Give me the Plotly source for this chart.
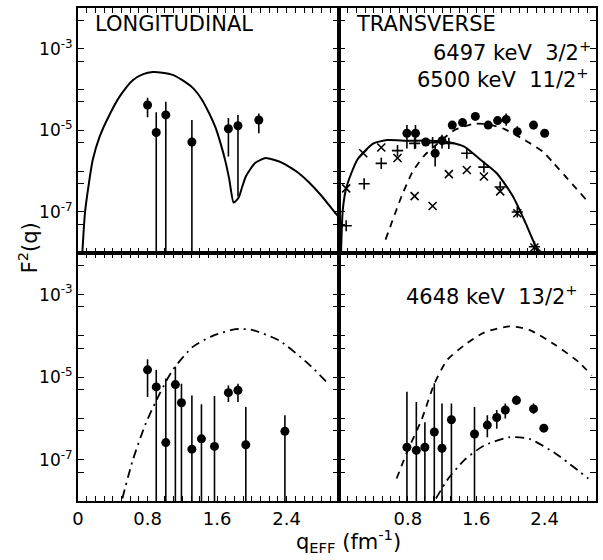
import plotly.graph_objects as go

# ---------------- data ----------------
# Top-left: LONGITUDINAL (6497/6500 keV)
tl_q = [0.80, 0.90, 1.01, 1.31, 1.73, 1.84, 2.08]
tl_f2 = [4.2e-5, 8.9e-6, 2.4e-5, 5.2e-6, 1.1e-5, 1.3e-5, 1.8e-5]
tl_hi = [6.3e-5, 2.8e-5, 5.0e-5, 1.8e-5, 2.0e-5, 2.4e-5, 2.6e-5]
tl_lo = [2.1e-5, 1e-9, 1e-9, 1e-9, 2.3e-6, 2.4e-7, 8.5e-6]

tl_curve_q = [0.05, 0.08, 0.12, 0.17, 0.25, 0.37, 0.48, 0.63, 0.75, 0.86, 0.97, 1.09,
              1.20, 1.32, 1.42, 1.51, 1.58, 1.64, 1.70, 1.74, 1.79, 1.82, 1.85, 1.89,
              1.93, 1.98, 2.04, 2.10, 2.16, 2.25, 2.35, 2.45, 2.54, 2.65, 2.80, 2.95, 3.0]
tl_curve_f2 = [1e-8, 9.5e-8, 4.2e-7, 1.9e-6, 7.1e-6, 2.6e-5, 6.8e-5, 1.7e-4, 2.4e-4, 2.7e-4,
               2.6e-4, 2.3e-4, 1.7e-4, 1.1e-4, 5.9e-5, 2.6e-5, 1.2e-5, 4.8e-6, 1.6e-6,
               6.3e-7, 1.7e-7, 1.9e-7, 2.3e-7, 4.2e-7, 7.4e-7, 1.1e-6, 1.6e-6, 1.9e-6,
               2.1e-6, 1.9e-6, 1.6e-6, 1.2e-6, 8.9e-7, 5.5e-7, 2.5e-7, 1.0e-7, 7.6e-8]

# Top-right: TRANSVERSE (6497 keV 3/2+, 6500 keV 11/2+)
tr_q = [0.79, 0.89, 1.01, 1.12, 1.20, 1.32, 1.44, 1.59, 1.74, 1.85, 1.95, 2.08, 2.27, 2.40]
tr_f2 = [8.5e-6, 8.5e-6, 5.2e-6, 2.75e-6, 5.6e-6, 1.35e-5, 1.55e-5, 2.2e-5, 1.35e-5,
         1.74e-5, 1.86e-5, 9.3e-6, 1.35e-5, 8.5e-6]
tr_hi = [1.35e-5, 1.35e-5, 6.3e-6, 4.4e-6, 7.8e-6, 1.5e-5, 1.7e-5, 2.4e-5, 1.5e-5,
         1.9e-5, 2.6e-5, 1.26e-5, 1.7e-5, 1.05e-5]
tr_lo = [3.6e-6, 3.6e-6, 4.3e-6, 1.3e-6, 3.6e-6, 1.2e-5, 1.4e-5, 2.0e-5, 1.2e-5,
         1.55e-5, 1.3e-5, 7.1e-6, 1.05e-5, 7.1e-6]

tr_x_q = [0.08, 0.28, 0.49, 0.68, 0.88, 1.09, 1.28, 1.49, 1.69, 1.88, 2.08, 2.28]
tr_x_f2 = [3.8e-7, 2.75e-6, 3.8e-6, 2.1e-6, 2.45e-7, 1.4e-7, 8.5e-7, 1.07e-6, 7.4e-7,
           3.2e-7, 9.3e-8, 1.35e-8]
tr_p_q = [0.08, 0.29, 0.49, 0.68, 0.88, 1.09, 1.28, 1.49, 1.69, 1.88, 2.08, 2.28]
tr_p_f2 = [4.6e-8, 4.9e-7, 1.55e-6, 3.2e-6, 4.8e-6, 5.0e-6, 4.8e-6, 2.75e-6, 1.26e-6,
           4.1e-7, 1.0e-7, 1.4e-8]

tr_solid_q = [0.02, 0.04, 0.08, 0.14, 0.21, 0.29, 0.40, 0.56, 0.79, 1.07, 1.26, 1.46,
              1.65, 1.84, 2.03, 2.18, 2.30, 2.36]
tr_solid_f2 = [1e-8, 1.1e-7, 3.8e-7, 8.9e-7, 1.9e-6, 3.0e-6, 4.8e-6, 5.8e-6, 5.6e-6,
               5.6e-6, 5.2e-6, 4.0e-6, 1.9e-6, 8.9e-7, 2.4e-7, 5.2e-8, 1.4e-8, 1e-8]
tr_dash_q = [0.54, 0.73, 0.86, 1.00, 1.19, 1.34, 1.57, 1.75, 1.92, 2.18, 2.38, 2.49, 2.89]
tr_dash_f2 = [2.1e-8, 2.5e-7, 1.0e-6, 2.5e-6, 5.6e-6, 1.0e-5, 1.45e-5, 1.4e-5, 1.1e-5,
              5.6e-6, 3.0e-6, 1.7e-6, 1.95e-7]

# Bottom-left: LONGITUDINAL (4648 keV 13/2+)
bl_q = [0.80, 0.90, 1.01, 1.12, 1.19, 1.31, 1.42, 1.57, 1.73, 1.84, 1.93, 2.38]
bl_f2 = [1.5e-5, 5.8e-6, 2.6e-7, 6.6e-6, 2.4e-6, 1.8e-7, 3.2e-7, 2.1e-7, 4.2e-6,
         4.8e-6, 2.3e-7, 4.9e-7]
bl_hi = [2.7e-5, 1.5e-5, 9.3e-6, 1.8e-5, 6.9e-6, 3.6e-6, 2.2e-6, 3.5e-6, 6.3e-6,
         6.9e-6, 1.9e-6, 1.2e-6]
bl_lo = [3.3e-6, 1e-9, 1e-9, 1e-9, 1e-9, 1e-9, 1e-9, 1e-9, 2.5e-6, 2.5e-6, 1e-9, 1e-9]
bl_dd_q = [0.51, 0.63, 0.78, 0.94, 1.09, 1.32, 1.55, 1.81, 2.00, 2.31, 2.65, 2.88]
bl_dd_f2 = [1.15e-8, 9.8e-8, 7.6e-7, 4.0e-6, 1.5e-5, 5.4e-5, 1.0e-4, 1.45e-4, 1.4e-4,
            7.8e-5, 2.1e-5, 6.9e-6]

# Bottom-right: TRANSVERSE (4648 keV 13/2+)
br_q = [0.79, 0.90, 1.00, 1.11, 1.20, 1.31, 1.58, 1.73, 1.84, 1.94, 2.07, 2.27, 2.39]
br_f2 = [2.0e-7, 1.7e-7, 2.0e-7, 4.7e-7, 1.9e-7, 9.3e-7, 4.2e-7, 6.9e-7, 1.05e-6,
         1.6e-6, 2.75e-6, 1.7e-6, 5.8e-7]
br_hi = [4.4e-6, 2.5e-6, 8.1e-7, 7.1e-6, 2.3e-6, 2.3e-6, 1.9e-6, 1.2e-6, 1.6e-6,
         2.3e-6, 3.6e-6, 2.3e-6, 7.1e-7]
br_lo = [1e-9, 1e-9, 1e-9, 1e-9, 1e-9, 1e-9, 1e-9, 3.5e-7, 5.6e-7, 1.0e-6, 2.1e-6,
         1.3e-6, 4.7e-7]
br_dash_q = [0.67, 0.80, 0.96, 1.11, 1.26, 1.46, 1.69, 1.99, 2.22, 2.53, 2.80, 2.95]
br_dash_f2 = [3.5e-8, 1.7e-7, 9.1e-7, 6.9e-6, 2.6e-5, 5.9e-5, 1.2e-4, 1.7e-4, 1.4e-4,
              5.9e-5, 2.3e-5, 1.1e-5]
br_dd_q = [1.13, 1.26, 1.46, 1.69, 1.99, 2.22, 2.53, 2.91]
br_dd_f2 = [1.15e-8, 3.2e-8, 9.8e-8, 2.2e-7, 3.5e-7, 3.2e-7, 1.4e-7, 3.5e-8]

# ticks
x_tickvals = [round(0.1 * i, 1) for i in range(31)]
x_labels_left = {0.0: "0", 0.8: "0.8", 1.6: "1.6", 2.4: "2.4"}
x_labels_right = {0.8: "0.8", 1.6: "1.6", 2.4: "2.4"}
y_tickvals = [5e-3, 1e-3, 5e-4, 1e-4, 5e-5, 1e-5, 5e-6, 1e-6, 5e-7, 1e-7, 5e-8]
y_labels = {1e-3: "10<sup>-3</sup>", 1e-5: "10<sup>-5</sup>", 1e-7: "10<sup>-7</sup>"}

FONT = "DejaVu Sans"
BLACK = "black"

fig = go.Figure()


def dots(q, f, hi, lo, xa, ya):
    fig.add_trace(go.Scatter(
        x=q, y=f, mode="markers", xaxis=xa, yaxis=ya,
        marker=dict(symbol="circle", size=9, color=BLACK),
        error_y=dict(type="data", symmetric=False,
                     array=[h - v for h, v in zip(hi, f)],
                     arrayminus=[v - l for v, l in zip(f, lo)],
                     width=0, thickness=1.6, color=BLACK),
        showlegend=False))


def curve(q, f, xa, ya, dash="solid", width=2.0):
    fig.add_trace(go.Scatter(
        x=q, y=f, mode="lines", xaxis=xa, yaxis=ya,
        line=dict(color=BLACK, width=width, dash=dash, shape="spline", smoothing=0.6),
        showlegend=False))


def marks(q, f, sym, xa, ya):
    fig.add_trace(go.Scatter(
        x=q, y=f, mode="markers", xaxis=xa, yaxis=ya,
        marker=dict(symbol=sym, size=8, color=BLACK, line=dict(color=BLACK, width=1.6)),
        showlegend=False))


DASH = "7px,6px"
DASHDOT = "9px,5px,2px,5px"

# Top-left
curve(tl_curve_q, tl_curve_f2, "x", "y")
dots(tl_q, tl_f2, tl_hi, tl_lo, "x", "y")
# Top-right
curve(tr_solid_q, tr_solid_f2, "x2", "y2")
curve(tr_dash_q, tr_dash_f2, "x2", "y2", dash=DASH, width=1.8)
marks(tr_x_q, tr_x_f2, "x-thin", "x2", "y2")
marks(tr_p_q, tr_p_f2, "cross-thin", "x2", "y2")
dots(tr_q, tr_f2, tr_hi, tr_lo, "x2", "y2")
# Bottom-left
curve(bl_dd_q, bl_dd_f2, "x3", "y3", dash=DASHDOT, width=1.8)
dots(bl_q, bl_f2, bl_hi, bl_lo, "x3", "y3")
# Bottom-right
curve(br_dash_q, br_dash_f2, "x4", "y4", dash=DASH, width=1.8)
curve(br_dd_q, br_dd_f2, "x4", "y4", dash=DASHDOT, width=1.8)
dots(br_q, br_f2, br_hi, br_lo, "x4", "y4")

XL, XR = [0, 0.5035], [0.5045, 1.0]
YT, YB = [0.5035, 1.0], [0.0, 0.5025]


def xaxis(domain, anchor, labels):
    ax = dict(domain=domain, anchor=anchor, range=[0, 3.0],
              tickmode="array", tickvals=x_tickvals,
              ticks="inside", ticklen=5, tickwidth=1.4, tickcolor=BLACK,
              showline=True, linewidth=2, linecolor=BLACK, mirror="allticks",
              showgrid=False, zeroline=False,
              tickfont=dict(family=FONT, size=18, color=BLACK))
    if labels:
        ax["ticktext"] = [labels.get(v, "") for v in x_tickvals]
    else:
        ax["showticklabels"] = False
    return ax


def yaxis(domain, anchor, show_labels):
    ax = dict(domain=domain, anchor=anchor, type="log", range=[-8, -2],
              tickmode="array", tickvals=y_tickvals,
              ticks="inside", ticklen=6, tickwidth=1.4, tickcolor=BLACK,
              showline=True, linewidth=2, linecolor=BLACK, mirror="allticks",
              showgrid=False, zeroline=False,
              tickfont=dict(family=FONT, size=17, color=BLACK))
    if show_labels:
        ax["ticktext"] = [y_labels.get(v, "") for v in y_tickvals]
    else:
        ax["showticklabels"] = False
    return ax


fig.update_layout(
    width=603, height=560,
    margin=dict(l=78, r=5, t=8, b=59),
    paper_bgcolor="white", plot_bgcolor="rgba(0,0,0,0)",
    xaxis=xaxis(XL, "y", {}),
    xaxis2=xaxis(XR, "y2", {}),
    xaxis3=xaxis(XL, "y3", x_labels_left),
    xaxis4=xaxis(XR, "y4", x_labels_right),
    yaxis=yaxis(YT, "x", True),
    yaxis2=yaxis(YT, "x2", False),
    yaxis3=yaxis(YB, "x3", True),
    yaxis4=yaxis(YB, "x4", False),
    font=dict(family=FONT, color=BLACK),
)

ann_font = dict(family=FONT, size=21, color=BLACK)
annotations = [
    dict(text="LONGITUDINAL", x=0.029, y=0.968, xanchor="left", yanchor="middle"),
    dict(text="TRANSVERSE", x=0.533, y=0.968, xanchor="left", yanchor="middle"),
    dict(text="6497 keV  3/2<sup>+</sup>", x=0.995, y=0.913, xanchor="right", yanchor="middle"),
    dict(text="6500 keV  11/2<sup>+</sup>", x=0.99, y=0.858, xanchor="right", yanchor="middle"),
    dict(text="4648 keV  13/2<sup>+</sup>", x=0.97, y=0.418, xanchor="right", yanchor="middle"),
    dict(text="F<sup>2</sup>(q)", x=-0.096, y=0.513, xanchor="center", yanchor="middle",
         textangle=-90),
    dict(text="q<sub>EFF</sub> (fm<sup>-1</sup>)", x=0.523, y=-0.082, xanchor="center",
         yanchor="middle"),
]
for a in annotations:
    fig.add_annotation(xref="paper", yref="paper", showarrow=False, font=ann_font, **a)

fig.write_html("out.html")
